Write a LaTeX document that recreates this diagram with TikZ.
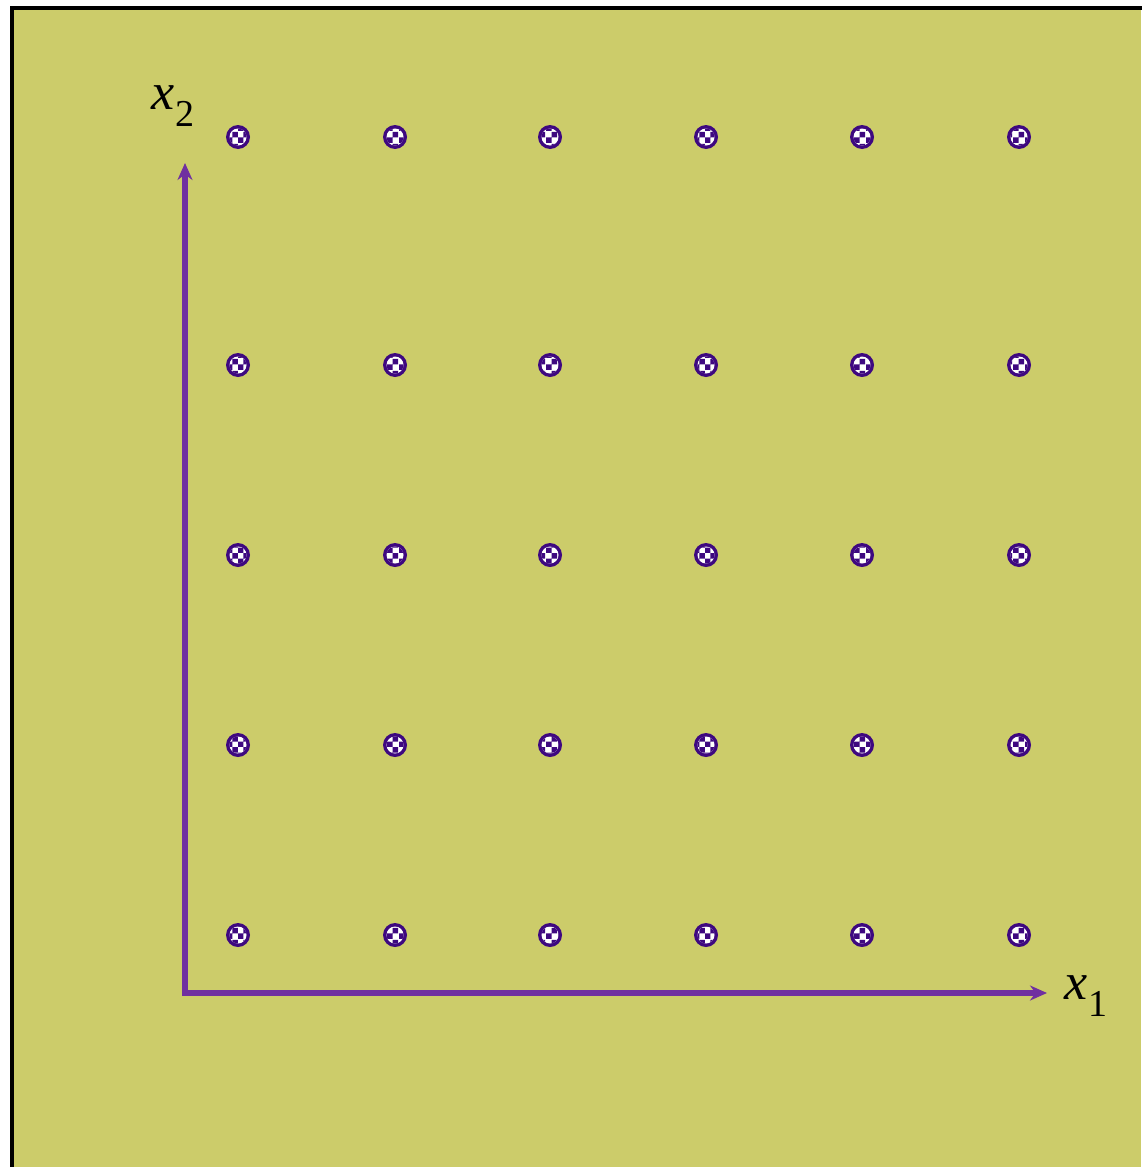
\documentclass[tikz,border=0pt]{standalone}
\usepackage{fontspec}
\setmainfont{Liberation Serif}
\usetikzlibrary{patterns,arrows.meta}
\definecolor{bgolive}{RGB}{204,204,106}
\definecolor{dotpurple}{RGB}{62,8,128}
\definecolor{axispurple}{RGB}{112,48,160}
\tikzset{
  lattdot/.style={circle,inner sep=0pt,minimum size=24pt,fill=dotpurple,
    path picture={\fill[white] (path picture bounding box.center) circle (8.5pt);
      \fill[pattern=checkerboard,pattern color=dotpurple] (path picture bounding box.center) circle (8.5pt);}},
  axisline/.style={draw=axispurple,line width=5.5pt,line join=miter,
    {Stealth[length=17pt,width=15pt]}-{Stealth[length=17pt,width=15pt]}},
  axlabel/.style={font=\fontsize{52}{58}\selectfont,inner sep=0pt}
}
\begin{document}
\begin{tikzpicture}[x=1pt,y=-1pt]
\useasboundingbox (0,0) rectangle (1141,1167);
\fill[bgolive] (10,6) rectangle (1141,1167);
\draw[black,line width=4pt] (12,1170) -- (12,8) -- (1145,8);
\foreach \c [count=\i] in {238,395,550,706,862,1019}{
  \foreach \r [count=\j] in {137,365,555,745,935}{
    \node[lattdot] (d\i\j) at (\c,\r) {};
  }
}
\coordinate (o) at (185,993);
\coordinate (xend) at (1047,993);
\coordinate (yend) at (185,163);
\draw[axisline] (yend) -- (o) -- (xend);
\node[axlabel] (x1) at (1086,996) {\textit{x}\raisebox{-0.33em}{\fontsize{38}{42}\selectfont 1}};
\node[axlabel] (x2) at (173,106) {\textit{x}\raisebox{-0.33em}{\fontsize{38}{42}\selectfont 2}};
\end{tikzpicture}
\end{document}
